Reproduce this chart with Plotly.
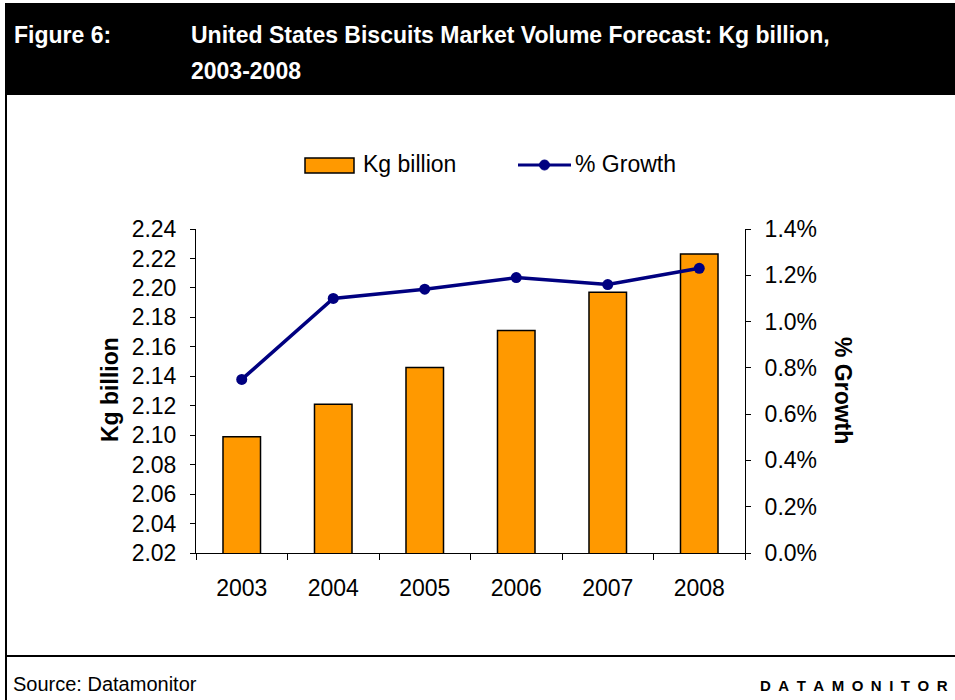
import plotly.graph_objects as go

# Market volume data
years = ["2003", "2004", "2005", "2006", "2007", "2008"]
volume_kg_bn = [2.099, 2.121, 2.146, 2.171, 2.197, 2.223]
growth_pct = [0.0075, 0.0110, 0.0114, 0.0119, 0.0116, 0.0123]

left_ticks = [2.02, 2.04, 2.06, 2.08, 2.10, 2.12, 2.14, 2.16, 2.18, 2.20, 2.22, 2.24]
right_ticks = [0.0, 0.002, 0.004, 0.006, 0.008, 0.010, 0.012, 0.014]

W, H = 955, 700
L, R, T, B = 196, 745, 229, 553  # plot area in pixels

FONT = "Liberation Sans, Arial, sans-serif"
ORANGE = "#FF9900"
NAVY = "#000080"


def px(x):
    return (x - L) / (R - L)


def py(y):
    return (B - y) / (B - T)


fig = go.Figure()
fig.add_trace(go.Bar(
    x=years, y=volume_kg_bn, name="Kg billion",
    marker=dict(color=ORANGE, line=dict(color="black", width=1.5)),
    width=0.41, yaxis="y",
))
fig.add_trace(go.Scatter(
    x=years, y=growth_pct, name="% Growth", mode="lines+markers",
    line=dict(color=NAVY, width=3.5),
    marker=dict(color=NAVY, size=11),
    yaxis="y2",
))

shapes = [
    # header band
    dict(type="rect", xref="paper", yref="paper",
         x0=px(5), x1=px(955), y0=py(3), y1=py(95),
         fillcolor="black", line=dict(width=0), layer="below"),
    # left frame line
    dict(type="line", xref="paper", yref="paper",
         x0=px(6), x1=px(6), y0=py(95), y1=py(700),
         line=dict(color="black", width=2)),
    # footer separator
    dict(type="line", xref="paper", yref="paper",
         x0=px(6), x1=px(955), y0=py(656), y1=py(656),
         line=dict(color="black", width=2)),
    # legend: bar swatch
    dict(type="rect", xref="paper", yref="paper",
         x0=px(305), x1=px(354), y0=py(158), y1=py(173),
         fillcolor=ORANGE, line=dict(color="black", width=1.5)),
    # legend: line swatch
    dict(type="line", xref="paper", yref="paper",
         x0=px(518), x1=px(571), y0=py(165), y1=py(165),
         line=dict(color=NAVY, width=3)),
    dict(type="circle", xref="paper", yref="paper",
         x0=px(539.5), x1=px(549.5), y0=py(160), y1=py(170),
         fillcolor=NAVY, line=dict(color=NAVY, width=1)),
]

SP = "\u2002"
annotations = [
    dict(text="<b>Figure 6:</b>", x=px(12), y=py(35), xanchor="left", yanchor="middle",
         font=dict(family=FONT, size=23, color="white")),
    dict(text="<b>United States Biscuits Market Volume Forecast: Kg billion,</b>",
         x=px(189), y=py(35), xanchor="left", yanchor="middle",
         font=dict(family=FONT, size=23, color="white")),
    dict(text="<b>2003-2008</b>", x=px(189), y=py(71), xanchor="left", yanchor="middle",
         font=dict(family=FONT, size=23, color="white")),
    dict(text="Kg billion", x=px(361), y=py(164), xanchor="left", yanchor="middle",
         font=dict(family=FONT, size=23, color="black")),
    dict(text="% Growth", x=px(573), y=py(164), xanchor="left", yanchor="middle",
         font=dict(family=FONT, size=23, color="black")),
    dict(text="<b>Kg billion</b>", x=px(110), y=py(390), xanchor="center", yanchor="middle",
         textangle=-90, font=dict(family=FONT, size=23, color="black")),
    dict(text="<b>% Growth</b>", x=px(843), y=py(390), xanchor="center", yanchor="middle",
         textangle=90, font=dict(family=FONT, size=23, color="black")),
    dict(text="Source: Datamonitor", x=px(11), y=py(684), xanchor="left", yanchor="middle",
         font=dict(family=FONT, size=20, color="black")),
    dict(text="<b>" + SP.join("DATAMONITOR") + "</b>", x=px(950), y=py(685),
         xanchor="right", yanchor="middle", font=dict(family=FONT, size=15, color="black")),
]
for a in annotations:
    a.update(xref="paper", yref="paper", showarrow=False)

axis_font = dict(family=FONT, size=23, color="black")

fig.update_layout(
    width=W, height=H,
    margin=dict(l=L, r=W - R, t=T, b=H - B, pad=0),
    paper_bgcolor="white", plot_bgcolor="white",
    showlegend=False,
    bargap=0.59,
    shapes=shapes,
    annotations=annotations,
    font=axis_font,
    xaxis=dict(
        type="category", showline=True, linecolor="black", linewidth=1,
        ticks="outside", tickson="boundaries", ticklen=6, tickcolor="black",
        tickfont=axis_font, showgrid=False, zeroline=False,
        ticklabelstandoff=14,
    ),
    yaxis=dict(
        range=[2.02, 2.24], tickvals=left_ticks, tickformat=".2f",
        showline=True, linecolor="black", linewidth=1,
        ticks="outside", ticklen=5, tickcolor="black",
        tickfont=axis_font, showgrid=False, zeroline=False,
        ticklabelstandoff=9,
    ),
    yaxis2=dict(
        range=[0, 0.014], tickvals=right_ticks, tickformat=".1%",
        overlaying="y", side="right",
        showline=True, linecolor="black", linewidth=1,
        ticks="outside", ticklen=5, tickcolor="black",
        tickfont=axis_font, showgrid=False, zeroline=False,
        ticklabelstandoff=9,
    ),
)

fig.write_html("out.html")
